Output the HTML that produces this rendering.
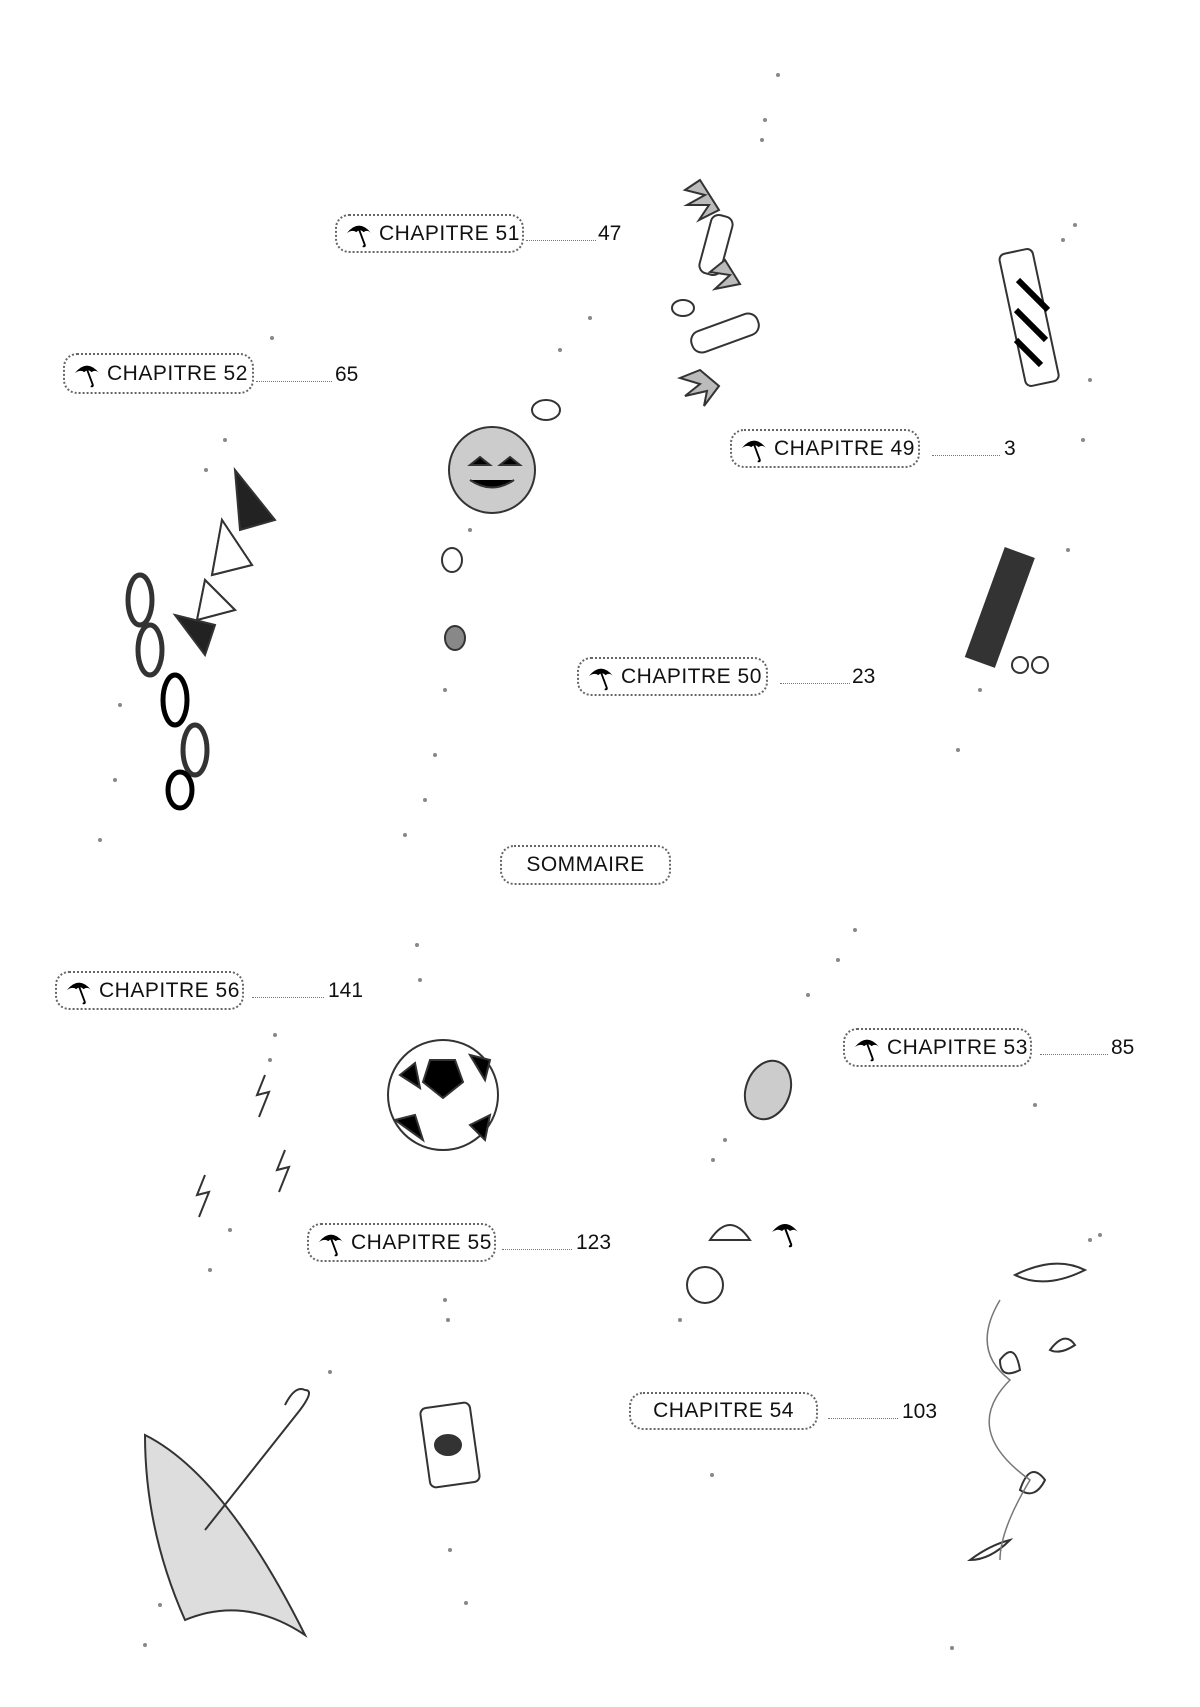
<!DOCTYPE html>
<html><head><meta charset="utf-8"><style>
html,body{margin:0;padding:0;background:#fff}
body{width:1200px;height:1707px;position:relative;overflow:hidden;font-family:"Liberation Sans",sans-serif}
.b{position:absolute;border:2px dotted #666;border-radius:14px;box-sizing:border-box;display:flex;align-items:center;font-size:21px;letter-spacing:0.5px;color:#111}
.b svg{margin:0 6px 0 8px}
.n{position:absolute;font-size:21px;color:#111}
.l{position:absolute;border-top:1px dotted #777;height:0}
svg.bg{position:absolute;left:0;top:0}
</style></head><body>
<svg class="bg" width="1200" height="1707">
<defs><symbol id="u" viewBox="0 0 30 30"><path d="M2 14 Q15 -2 28 14 Q24 10 20 13 Q16 9 12 13 Q8 10 2 14Z" fill="#000"/><path d="M15 10 L21 26 Q22 29 19 28" stroke="#000" stroke-width="2" fill="none"/></symbol></defs>
<g fill="#888">
<circle cx="778" cy="75" r="2"/><circle cx="765" cy="120" r="2"/><circle cx="762" cy="140" r="2"/><circle cx="1075" cy="225" r="2"/><circle cx="1063" cy="240" r="2"/><circle cx="1090" cy="380" r="2"/><circle cx="1083" cy="440" r="2"/><circle cx="1068" cy="550" r="2"/><circle cx="980" cy="690" r="2"/><circle cx="958" cy="750" r="2"/>
<circle cx="590" cy="318" r="2"/><circle cx="560" cy="350" r="2"/><circle cx="470" cy="530" r="2"/><circle cx="445" cy="690" r="2"/><circle cx="435" cy="755" r="2"/><circle cx="425" cy="800" r="2"/><circle cx="405" cy="835" r="2"/>
<circle cx="272" cy="338" r="2"/><circle cx="225" cy="440" r="2"/><circle cx="206" cy="470" r="2"/><circle cx="120" cy="705" r="2"/><circle cx="115" cy="780" r="2"/><circle cx="100" cy="840" r="2"/>
<circle cx="417" cy="945" r="2"/><circle cx="420" cy="980" r="2"/><circle cx="275" cy="1035" r="2"/><circle cx="270" cy="1060" r="2"/><circle cx="230" cy="1230" r="2"/><circle cx="210" cy="1270" r="2"/>
<circle cx="855" cy="930" r="2"/><circle cx="838" cy="960" r="2"/><circle cx="808" cy="995" r="2"/><circle cx="725" cy="1140" r="2"/><circle cx="713" cy="1160" r="2"/><circle cx="680" cy="1320" r="2"/><circle cx="712" cy="1475" r="2"/>
<circle cx="1035" cy="1105" r="2"/><circle cx="1090" cy="1240" r="2"/><circle cx="1100" cy="1235" r="2"/><circle cx="952" cy="1648" r="2"/>
<circle cx="445" cy="1300" r="2"/><circle cx="448" cy="1320" r="2"/><circle cx="330" cy="1372" r="2"/><circle cx="450" cy="1550" r="2"/><circle cx="466" cy="1603" r="2"/><circle cx="145" cy="1645" r="2"/><circle cx="160" cy="1605" r="2"/>
</g>
<g stroke="#333" fill="#fff" stroke-width="2">
<path d="M700 180 l-15 10 l20 5 l-18 10 l22 0 l-10 15 l20 -10 z" fill="#bbb"/>
<rect x="705" y="215" width="22" height="60" rx="8" transform="rotate(15 716 245)"/>
<path d="M725 260 l-15 12 l20 3 l-15 14 l25 -5 z" fill="#bbb"/>
<ellipse cx="683" cy="308" rx="11" ry="8"/>
<rect x="690" y="322" width="70" height="22" rx="10" transform="rotate(-20 725 333)"/>
<path d="M700 370 l-20 8 l20 6 l-15 12 l22 -5 l-3 15 l15 -20 z" fill="#bbb"/>
<rect x="1012" y="250" width="34" height="135" rx="6" transform="rotate(-12 1029 317)"/>
<path d="M1018 280 l30 30 M1016 310 l30 30 M1016 340 l25 25" stroke="#000" stroke-width="6"/>
<circle cx="492" cy="470" r="43" fill="#ccc"/>
<path d="M470 465 l10 -8 l10 8z M500 465 l10 -8 l10 8z M470 480 q22 15 44 0" fill="#000"/>
<ellipse cx="546" cy="410" rx="14" ry="10"/>
<ellipse cx="452" cy="560" rx="10" ry="12"/>
<ellipse cx="455" cy="638" rx="10" ry="12" fill="#888"/>
<rect x="985" y="550" width="30" height="115" transform="rotate(20 1000 607)" fill="#333"/>
<circle cx="1020" cy="665" r="8"/><circle cx="1040" cy="665" r="8"/>
<path d="M235 470 l40 50 l-35 10z M222 520 l30 45 l-40 10z M205 580 l30 30 l-38 10z M175 615 l40 10 l-10 30z" fill="#222"/>
<path d="M222 520 l30 45 l-40 10z M205 580 l30 30 l-38 10z" fill="#fff"/>
<g fill="none" stroke-width="5">
<ellipse cx="140" cy="600" rx="12" ry="25"/><ellipse cx="150" cy="650" rx="12" ry="25"/><ellipse cx="175" cy="700" rx="12" ry="25" stroke="#000"/><ellipse cx="195" cy="750" rx="12" ry="25"/><ellipse cx="180" cy="790" rx="12" ry="18" stroke="#000"/></g>
<circle cx="443" cy="1095" r="55"/>
<path d="M430 1060 l25 0 l8 22 l-20 16 l-20 -16z M400 1075 l15 -12 l5 25 z M395 1120 l20 -5 l8 25 z M470 1125 l20 -10 l-5 25z M470 1055 l20 5 l-5 20z" fill="#000"/>
<path d="M265 1075 l-8 20 l12 -3 l-10 25 M285 1150 l-8 20 l12 -3 l-10 25 M205 1175 l-8 20 l12 -3 l-10 25" fill="none"/>
<ellipse cx="768" cy="1090" rx="22" ry="30" fill="#ccc" transform="rotate(20 768 1090)"/>
<path d="M710 1240 q20 -30 40 0z"/>
<circle cx="705" cy="1285" r="18"/>
<path d="M1015 1275 q40 -20 70 -5 q-40 20 -70 5z M1000 1360 q15 -20 20 10 q-20 10 -20 -10z M1050 1350 q15 -20 25 -5 q-15 10 -25 5z M1020 1490 q10 -30 25 -10 q-10 20 -25 10z M970 1560 q20 -15 40 -20 q-20 20 -40 20z"/>
<path d="M145 1435 q80 40 160 200 q-60 -40 -120 -15 q-40 -90 -40 -185z" fill="#ddd"/>
<path d="M205 1530 l95 -120 q15 -20 5 -20 q-10 -5 -20 15" fill="none"/>
<rect x="425" y="1405" width="50" height="80" rx="6" transform="rotate(-8 450 1445)"/>
<ellipse cx="448" cy="1445" rx="13" ry="10" fill="#333"/>
</g>
<g fill="none" stroke="#777" stroke-width="1.5">
<path d="M1000 1300 q-30 50 10 80 q-50 50 20 100 q-30 50 -30 80"/>
</g>
<use href="#u" x="770" y="1218" width="30" height="30"/>
</svg>

<div class="b" style="left:335px;top:214px;width:189px;height:39px"><svg width="28" height="28"><use href="#u"/></svg>CHAPITRE 51</div>
<div class="l" style="left:526px;top:240px;width:70px"></div><div class="n" style="left:598px;top:222px">47</div>

<div class="b" style="left:63px;top:353px;width:191px;height:41px"><svg width="28" height="28"><use href="#u"/></svg>CHAPITRE 52</div>
<div class="l" style="left:256px;top:381px;width:76px"></div><div class="n" style="left:335px;top:363px">65</div>

<div class="b" style="left:730px;top:429px;width:190px;height:39px"><svg width="28" height="28"><use href="#u"/></svg>CHAPITRE 49</div>
<div class="l" style="left:932px;top:455px;width:68px"></div><div class="n" style="left:1004px;top:437px">3</div>

<div class="b" style="left:577px;top:657px;width:191px;height:39px"><svg width="28" height="28"><use href="#u"/></svg>CHAPITRE 50</div>
<div class="l" style="left:780px;top:683px;width:70px"></div><div class="n" style="left:852px;top:665px">23</div>

<div class="b" style="left:500px;top:845px;width:171px;height:40px;justify-content:center">SOMMAIRE</div>

<div class="b" style="left:55px;top:971px;width:189px;height:39px"><svg width="28" height="28"><use href="#u"/></svg>CHAPITRE 56</div>
<div class="l" style="left:252px;top:997px;width:72px"></div><div class="n" style="left:328px;top:979px">141</div>

<div class="b" style="left:843px;top:1028px;width:189px;height:39px"><svg width="28" height="28"><use href="#u"/></svg>CHAPITRE 53</div>
<div class="l" style="left:1040px;top:1054px;width:68px"></div><div class="n" style="left:1111px;top:1036px">85</div>

<div class="b" style="left:307px;top:1223px;width:189px;height:39px"><svg width="28" height="28"><use href="#u"/></svg>CHAPITRE 55</div>
<div class="l" style="left:502px;top:1249px;width:70px"></div><div class="n" style="left:576px;top:1231px">123</div>

<div class="b" style="left:629px;top:1392px;width:189px;height:38px;justify-content:center">CHAPITRE 54</div>
<div class="l" style="left:828px;top:1418px;width:70px"></div><div class="n" style="left:902px;top:1400px">103</div>
</body></html>
